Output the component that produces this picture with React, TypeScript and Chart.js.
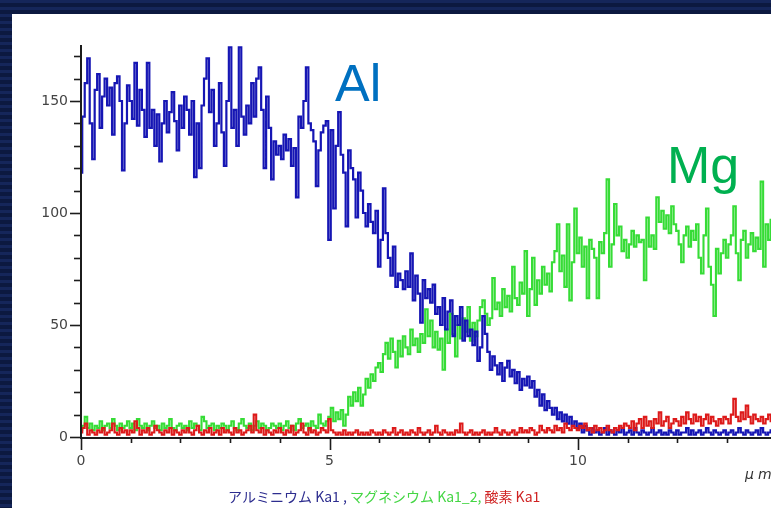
import React, { useEffect, useRef } from "react";
import { Chart, registerables } from "chart.js";
Chart.register(...registerables);

// sampling step along the line (µm)
const STEP = 0.05;

// Al Kα1 counts, one row per µm (20 samples each)
const alValues = [
  118, 143, 158, 169, 140, 124, 155, 162, 138, 152, 160, 148, 156, 135, 158, 161, 150, 119, 140, 157,
  150, 142, 167, 139, 155, 146, 134, 167, 138, 146, 130, 144, 123, 140, 150, 136, 145, 154, 141, 128,
  148, 138, 152, 146, 135, 150, 116, 140, 120, 148, 160, 169, 145, 155, 130, 140, 158, 136, 121, 150,
  174, 138, 146, 130, 174, 143, 135, 148, 140, 158, 143, 160, 165, 146, 120, 152, 138, 115, 132, 126,
  130, 124, 135, 128, 133, 121, 129, 107, 143, 138, 150, 165, 140, 137, 132, 112, 128, 136, 139, 141,
  88, 137, 102, 130, 145, 126, 118, 94, 128, 120, 115, 98, 118, 110, 100, 94, 104, 96, 91, 101,
  76, 88, 111, 91, 80, 72, 85, 67, 73, 70, 66, 74, 67, 82, 61, 72, 64, 51, 70, 62,
  66, 60, 68, 55, 58, 50, 62, 48, 56, 61, 45, 54, 50, 58, 43, 52, 45, 48, 41, 47,
  34, 40, 54, 46, 38, 30, 36, 32, 28, 33, 25, 31, 34, 27, 30, 24, 29, 21, 26, 23,
  27, 22, 25, 18, 21, 14, 19, 12, 16, 13, 10, 13, 8, 11, 7, 10, 6, 9, 5, 7,
  4, 6, 2, 5, 3, 1, 4, 2, 3, 1, 2, 4, 1, 3, 2, 1, 3, 2, 4, 1,
  2, 3, 1, 4, 2, 1, 3, 2, 1, 2, 4, 1, 2, 3, 1, 2, 1, 3, 2, 1,
  3, 1, 2, 2, 4, 1, 3, 1, 2, 3, 1, 2, 4, 2, 1, 3, 2, 1, 2, 3,
  1, 2, 3, 1, 2, 4, 2, 1, 3, 2, 1, 2, 3, 1, 4, 2, 1, 2, 3, 2,
];

// Mg Kα1_2 counts
const mgValues = [
  3, 5, 9, 4, 6, 3, 5, 4, 7, 3, 5, 6, 4, 8, 5, 3, 6, 4, 5, 7,
  4, 6, 3, 8, 5, 4, 6, 3, 5, 7, 4, 5, 3, 6, 4, 5, 8, 4, 3, 5,
  6, 4, 5, 3, 7, 4, 6, 5, 3, 9, 7, 4, 5, 6, 3, 5, 4, 6, 5, 3,
  5, 7, 4, 3, 6, 8, 5, 4, 6, 3, 5, 7, 4, 6, 5, 3, 4, 6, 5, 4,
  6, 3, 5, 7, 4, 5, 3, 6, 8, 4, 5, 6, 3, 7, 5, 4, 10, 6, 5, 7,
  9, 13, 7, 11, 8, 12, 5, 10, 18, 14, 20, 16, 22, 14, 19, 26, 22, 28, 25, 31,
  33, 29, 37, 42, 35, 44, 38, 31, 43, 36, 45, 40, 37, 48, 41, 44, 38, 46, 42, 57,
  45, 52, 40, 47, 39, 44, 30, 48, 42, 55, 46, 36, 50, 44, 53, 47, 58, 43, 51, 45,
  52, 58, 61, 55, 50, 53, 71, 57, 60, 54, 66, 58, 63, 56, 76, 62, 59, 69, 64, 83,
  54, 66, 80, 59, 70, 64, 76, 68, 73, 65, 78, 83, 95, 74, 81, 67, 95, 61, 78, 102,
  82, 89, 76, 85, 62, 88, 84, 80, 62, 87, 82, 91, 115, 76, 86, 104, 90, 94, 83, 88,
  80, 86, 92, 85, 90, 87, 88, 70, 98, 85, 90, 84, 107, 96, 101, 93, 99, 91, 103, 95,
  92, 86, 78, 90, 94, 85, 92, 88, 95, 80, 73, 90, 102, 76, 68, 54, 84, 73, 82, 88,
  80, 86, 90, 103, 82, 70, 88, 92, 80, 86, 91, 83, 89, 84, 114, 76, 95, 88, 97, 90,
];

// O Kα1 counts
const oValues = [
  2, 4, 6, 1, 3, 2, 1, 3, 2, 4, 1, 2, 3, 6, 2, 1, 4, 2, 3, 1,
  3, 2, 7, 4, 1, 3, 2, 4, 1, 2, 5, 3, 2, 1, 3, 2, 4, 1, 3, 2,
  1, 3, 2, 4, 2, 1, 3, 5, 2, 1, 3, 2, 4, 1, 2, 3, 1, 4, 2, 3,
  2, 1, 4, 2, 3, 1, 2, 3, 5, 2, 10, 3, 2, 4, 1, 3, 2, 1, 3, 2,
  4, 2, 1, 3, 2, 5, 1, 2, 3, 6, 2, 1, 4, 2, 3, 1, 2, 4, 3, 2,
  8, 3, 2, 1, 2, 1, 3, 1, 2, 1, 2, 3, 1, 2, 1, 2, 1, 3, 2, 1,
  2, 1, 3, 2, 1, 2, 4, 1, 2, 3, 1, 2, 1, 3, 2, 1, 4, 2, 1, 2,
  3, 1, 2, 5, 2, 1, 3, 2, 1, 2, 1, 3, 2, 6, 2, 1, 2, 3, 1, 2,
  1, 2, 3, 1, 2, 1, 2, 4, 2, 1, 3, 2, 1, 2, 3, 1, 2, 4, 2, 3,
  2, 4, 3, 1, 2, 5, 3, 2, 4, 3, 2, 5, 3, 4, 2, 6, 4, 3, 5, 4,
  3, 5, 4, 6, 3, 4, 2, 5, 3, 4, 2, 3, 5, 3, 2, 4, 3, 5, 4, 6,
  5, 4, 7, 3, 6, 8, 4, 9, 5, 7, 4, 8, 6, 11, 5, 7, 9, 4, 6, 8,
  7, 5, 9, 6, 11, 8, 6, 10, 7, 9, 5, 8, 10, 6, 9, 7, 5, 8, 6, 9,
  8, 6, 10, 17, 9, 7, 11, 8, 14, 9, 6, 10, 8, 7, 9, 6, 8, 10, 7, 9,
];

const yTickLabels = [0, 50, 100, 150];
const xTickLabels = [0, 5, 10];
const xUnit = "μm";

const legendParts = [
  { text: "アルミニウム Ka1 , ", color: "#2d2d8f" },
  { text: "マグネシウム Ka1_2, ", color: "#45d645" },
  { text: "酸素 Ka1", color: "#cf2222" },
];

const peakLabels = [
  { text: "Al", x: 5.11, y: 150, color: "#0070c0" },
  { text: "Mg", x: 11.79, y: 113.4, color: "#00b050" },
];

const W = 800;
const H = 508;

const toPts = (arr: number[]) => arr.map((v, i) => ({ x: +(i * STEP).toFixed(2), y: v }));

const decorPlugin = {
  id: "decor",
  beforeDraw(chart: any) {
    const ctx = chart.ctx;
    ctx.save();
    ctx.fillStyle = "#ffffff";
    ctx.fillRect(12, 14, W - 12, H - 14);
    ctx.restore();
  },
  afterDatasetsDraw(chart: any) {
    const ctx = chart.ctx;
    const xs = chart.scales.x;
    const ys = chart.scales.y;
    const { left, right, top, bottom } = chart.chartArea;
    ctx.save();
    ctx.strokeStyle = "#1c1c1c";
    ctx.lineWidth = 2;
    ctx.beginPath();
    ctx.moveTo(left, top);
    ctx.lineTo(left, bottom + 1);
    ctx.lineTo(right + 20, bottom + 1);
    ctx.stroke();
    ctx.lineWidth = 1.6;
    for (let v = 0; v <= 170; v += 10) {
      const py = Math.round(ys.getPixelForValue(v)) + 0.5;
      const len = v % 50 === 0 ? 11 : 7;
      ctx.beginPath();
      ctx.moveTo(left - len, py);
      ctx.lineTo(left, py);
      ctx.stroke();
    }
    for (let v = 0; v <= 14; v += 1) {
      const px = Math.round(xs.getPixelForValue(v)) + 0.5;
      const len = v % 5 === 0 ? 13 : 6;
      ctx.beginPath();
      ctx.moveTo(px, bottom);
      ctx.lineTo(px, bottom + len);
      ctx.stroke();
    }
    // peak labels
    ctx.font = '52px "Liberation Sans", Arial, sans-serif';
    ctx.textBaseline = "alphabetic";
    ctx.textAlign = "left";
    for (const p of peakLabels) {
      ctx.fillStyle = p.color;
      ctx.fillText(p.text, xs.getPixelForValue(p.x), ys.getPixelForValue(p.y));
    }
    // unit
    ctx.font = 'italic 14px "DejaVu Sans", sans-serif';
    ctx.fillStyle = "#333333";
    (ctx as any).letterSpacing = "4px";
    ctx.fillText(xUnit, 745, 479);
    (ctx as any).letterSpacing = "0px";
    // legend line
    ctx.font = '14px "Noto Sans CJK JP", sans-serif';
    let lx = 228;
    for (const part of legendParts) {
      ctx.fillStyle = part.color;
      ctx.fillText(part.text, lx, 502);
      lx += ctx.measureText(part.text).width;
    }
    ctx.restore();
  },
};

export default function App() {
  const ref = useRef<HTMLCanvasElement | null>(null);
  useEffect(() => {
    if (!ref.current) return;
    const chart = new Chart(ref.current, {
      type: "line",
      data: {
        datasets: [
          {
            label: "アルミニウム Ka1",
            data: toPts(alValues),
            borderColor: "#1616b4",
            borderWidth: 2.2,
            pointRadius: 0,
            stepped: "middle",
            order: 1,
          },
          {
            label: "マグネシウム Ka1_2",
            data: toPts(mgValues),
            borderColor: "#36dc36",
            borderWidth: 2.1,
            pointRadius: 0,
            stepped: "middle",
            order: 2,
          },
          {
            label: "酸素 Ka1",
            data: toPts(oValues),
            borderColor: "#dd1a1a",
            borderWidth: 2.1,
            pointRadius: 0,
            stepped: "middle",
            order: 0,
          },
        ],
      },
      options: {
        animation: false,
        responsive: false,
        devicePixelRatio: 1,
        layout: { padding: { left: 0, top: 45, right: 23.2, bottom: 0 } },
        plugins: { legend: { display: false }, tooltip: { enabled: false } },
        scales: {
          x: {
            type: "linear",
            min: 0,
            max: 14,
            grid: { display: false, drawTicks: false },
            border: { display: false },
            afterFit: (s: any) => {
              s.height = 71;
            },
            afterBuildTicks: (s: any) => {
              s.ticks = xTickLabels.map((v) => ({ value: v }));
            },
            ticks: {
              autoSkip: false,
              maxRotation: 0,
              padding: 16,
              color: "#444444",
              font: { family: "DejaVu Sans", size: 14 },
              callback: (v: any) => String(v),
            },
          },
          y: {
            min: 0,
            max: 175,
            grid: { display: false, drawTicks: false },
            border: { display: false },
            afterFit: (s: any) => {
              s.width = 81;
            },
            afterBuildTicks: (s: any) => {
              s.ticks = yTickLabels.map((v) => ({ value: v }));
            },
            ticks: {
              autoSkip: false,
              padding: 13,
              color: "#444444",
              font: { family: "DejaVu Sans", size: 14 },
              callback: (v: any) => String(v),
            },
          },
        },
      },
      plugins: [decorPlugin],
    });
    return () => chart.destroy();
  }, []);

  return (
    <div
      style={{
        position: "absolute",
        left: 0,
        top: 0,
        width: 771,
        height: 508,
        overflow: "hidden",
        background:
          "repeating-linear-gradient(to bottom, #15265a 0px, #15265a 3px, #0c1940 3px, #0c1940 7px)",
      }}
    >
      <canvas ref={ref} width={W} height={H} style={{ position: "absolute", left: 0, top: 0, width: W, height: H }} />
    </div>
  );
}
